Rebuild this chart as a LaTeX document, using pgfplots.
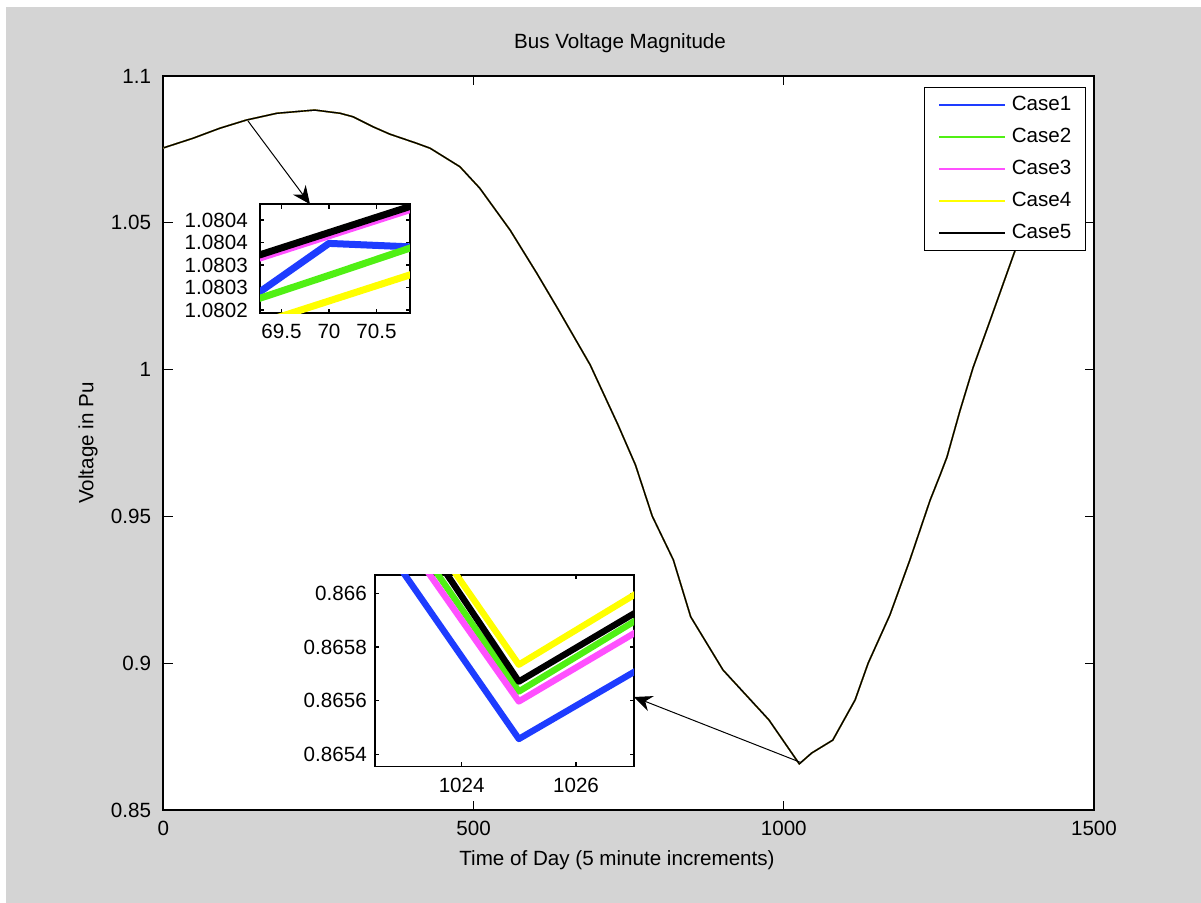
\documentclass[border=0pt]{standalone}
\usepackage{pgfplots}
\pgfplotsset{compat=1.18}
\usepackage{pgfplotstable}
\usepackage{fontspec}
\setmainfont{Liberation Sans}
\usetikzlibrary{arrows.meta}
\newcommand\ff{\fontsize{10.3pt}{12pt}\selectfont}
\definecolor{bgc}{RGB}{212,212,212}
\definecolor{caseblue}{RGB}{30,60,255}
\definecolor{casegreen}{RGB}{80,240,20}
\definecolor{casemag}{RGB}{255,80,255}
\definecolor{caseyel}{RGB}{255,255,0}

\pgfplotsset{
  every axis/.append style={
    scale only axis, tick align=inside,
    /pgf/number format/assume math mode=true,
    /pgf/number format/1000 sep={},
    tick label style={font=\ff}, label style={font=\ff}, title style={font=\ff},
    axis line style={line width=0.8pt}, tick style={line width=0.6pt, black},
    axis background/.style={fill=white},
    yticklabel style={xshift=-2.6pt},
    xticklabel style={yshift=-2pt},
  }
}

\pgfplotstableread{
x y
0 1.0755
48 1.0788
91 1.0822
134 1.0850
183 1.0873
244 1.0884
285 1.0873
306 1.0861
338 1.0827
365 1.0802
408 1.0771
430 1.0754
478 1.0691
510 1.0618
559 1.0475
602 1.0328
637 1.0203
688 1.0016
733 0.9811
761 0.9675
788 0.9501
822 0.9352
850 0.9158
902 0.8977
976 0.8807
1025 0.8657
1045 0.8694
1079 0.8738
1115 0.8875
1136 0.9000
1171 0.9164
1203 0.9350
1236 0.9556
1252 0.9641
1263 0.9702
1284 0.9860
1305 1.0006
1332 1.0164
1373 1.0407
1410 1.0620
1440 1.0780
}\maindata

\pgfplotstableread{
x c1 c2 c3 c4 c5
69 1.080200 1.080207 1.080297 1.080152 1.080304
70 1.080348 1.080277 1.080365 1.080220 1.080372
71 1.080339 1.080348 1.080433 1.080288 1.080440
}\zoomA

\pgfplotstableread{
x c1 c2 c3 c4 c5
1022 0.866379 0.866558 0.866507 0.866655 0.866624
1023 0.866071 0.866250 0.866204 0.866348 0.866307
1024 0.865764 0.865942 0.865900 0.866041 0.865989
1025 0.865457 0.865634 0.865597 0.865734 0.865671
1026 0.865581 0.865763 0.865723 0.865863 0.865797
1027 0.865705 0.865893 0.865849 0.865992 0.865923
1028 0.865829 0.866022 0.865975 0.866121 0.866049
}\zoomB

\begin{document}
\begin{tikzpicture}
\fill[white] (0,0) rectangle (600.5pt,451.5pt);
\fill[bgc] (3pt,0) rectangle (600.5pt,448pt);

\begin{axis}[
  at={(81.65pt,46.5pt)}, anchor=south west,
  width=465.35pt, height=367pt,
  xmin=0, xmax=1500, ymin=0.85, ymax=1.1,
  xtick={0,500,1000,1500}, xticklabels={0,500,1000,1500},
  ytick={0.85,0.9,0.95,1,1.05,1.1}, yticklabels={0.85,0.9,0.95,1,1.05,1.1},
  major tick length=4.6pt,
  title={Bus Voltage Magnitude},
  title style={at={(axis description cs:0.4907,1.0286)}, anchor=center},
  xlabel={Time of Day (5 minute increments)},
  xlabel style={at={(axis description cs:0.4875,-0.0681)}, anchor=center},
  ylabel={Voltage in Pu},
  ylabel style={at={(axis description cs:-0.0809,0.5)}, anchor=center},
  legend cell align=left,
  legend style={at={(axis description cs:1,1)}, anchor=north east,
    xshift=-4pt, yshift=-5.5pt, draw=black, line width=0.6pt, fill=white,
    font=\ff, inner xsep=7pt, inner ysep=0.75pt, row sep=0pt, column sep=3pt,
    nodes={inner sep=0pt, minimum height=16pt}},
  legend image code/.code={\draw[#1] (0pt,0pt) -- (33pt,0pt);},
]
\addplot[caseblue, line width=0.7pt] table[x=x,y=y]{\maindata};
\addlegendentry{Case1}
\addplot[casegreen, line width=0.7pt] table[x=x,y=y]{\maindata};
\addlegendentry{Case2}
\addplot[casemag, line width=0.7pt] table[x=x,y=y]{\maindata};
\addlegendentry{Case3}
\addplot[caseyel, line width=0.7pt] table[x=x,y=y]{\maindata};
\addlegendentry{Case4}
\addplot[black, line width=0.7pt] table[x=x,y=y]{\maindata};
\addlegendentry{Case5}
\end{axis}

\begin{axis}[
  at={(130pt,294.85pt)}, anchor=south west,
  width=75pt, height=54.5pt,
  xmin=69.274, xmax=70.853, ymin=1.0801927, ymax=1.0804349,
  y coord trafo/.code={\edef\pgfmathresult{\fpeval{(#1-1.08)*1000000}}},
  xtick={69.5,70,70.5}, xticklabels={69.5,70,70.5},
  ytick={1.0802,1.08025,1.0803,1.08035,1.0804},
  yticklabels={1.0802,1.0803,1.0803,1.0804,1.0804},
  major tick length=2.2pt,
]
\addplot[caseblue, line width=3.5pt, line join=round] table[x=x,y=c1]{\zoomA};
\addplot[casegreen, line width=3.5pt, line join=round] table[x=x,y=c2]{\zoomA};
\addplot[casemag, line width=3.5pt, line join=round] table[x=x,y=c3]{\zoomA};
\addplot[caseyel, line width=3.5pt, line join=round] table[x=x,y=c4]{\zoomA};
\addplot[black, line width=3.5pt, line join=round] table[x=x,y=c5]{\zoomA};
\end{axis}

\begin{axis}[
  at={(187.5pt,68.15pt)}, anchor=south west,
  width=129.5pt, height=95.85pt,
  xmin=1022.484, xmax=1027.014, ymin=0.8653536, ymax=0.8660684,
  y coord trafo/.code={\edef\pgfmathresult{\fpeval{(#1-0.865)*1000000}}},
  xtick={1024,1026}, xticklabels={1024,1026},
  ytick={0.8654,0.8656,0.8658,0.866},
  yticklabels={0.8654,0.8656,0.8658,0.866},
  yticklabel style={xshift=2pt},
  major tick length=2.2pt,
]
\addplot[caseblue, line width=3.2pt, line join=round] table[x=x,y=c1]{\zoomB};
\addplot[casegreen, line width=3.2pt, line join=round] table[x=x,y=c2]{\zoomB};
\addplot[casemag, line width=3.2pt, line join=round] table[x=x,y=c3]{\zoomB};
\addplot[caseyel, line width=3.2pt, line join=round] table[x=x,y=c4]{\zoomB};
\addplot[black, line width=3.2pt, line join=round] table[x=x,y=c5]{\zoomB};
\end{axis}

\draw[-{Stealth[length=9pt,width=8pt,inset=3pt]}, line width=0.5pt] (124pt,391pt) -- (155pt,349.4pt);
\draw[-{Stealth[length=9pt,width=8pt,inset=3pt]}, line width=0.5pt] (399.8pt,70.5pt) -- (317pt,103pt);

\pgfresetboundingbox
\useasboundingbox (0,0) rectangle (600.5pt,451.5pt);
\end{tikzpicture}
\end{document}
